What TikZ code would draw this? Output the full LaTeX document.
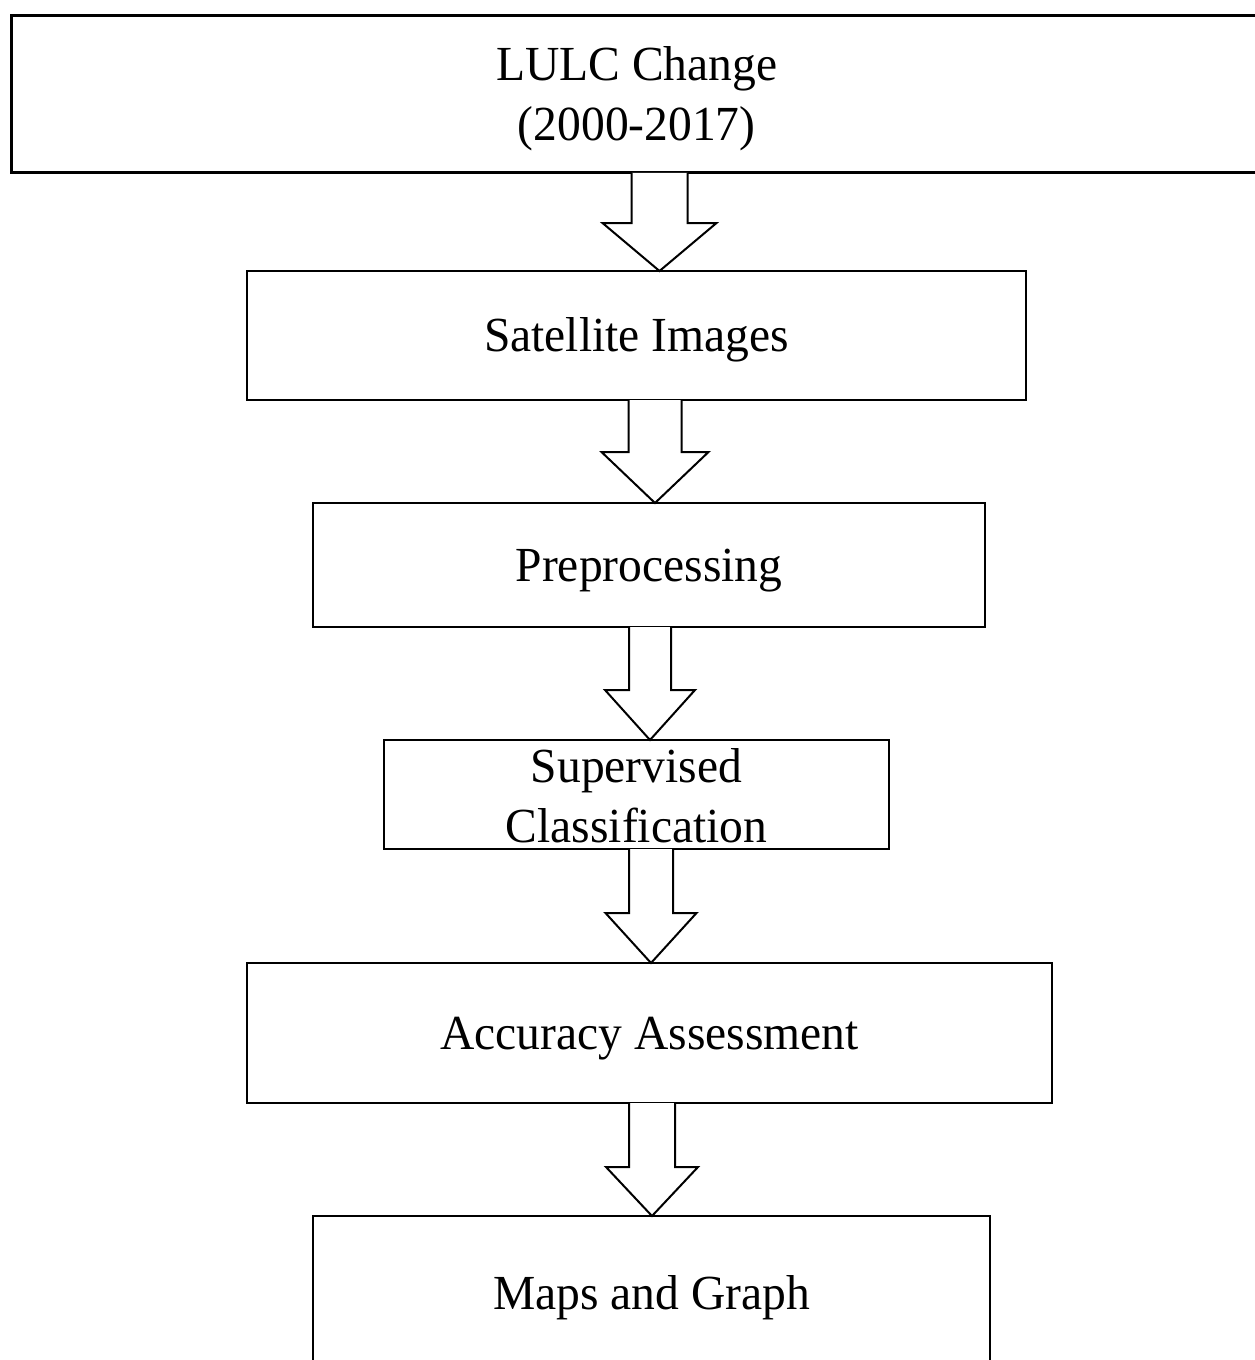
\documentclass[tikz,border=0pt]{standalone}
\usepackage{fontspec}
\setmainfont{Liberation Serif}[FakeStretch=0.97]
\usetikzlibrary{calc}
\tikzset{
  box/.style={draw=black, line width=1pt, fill=white, inner sep=0pt, outer sep=0pt,
    font=\fontsize{24.5}{30}\selectfont, text height=16.2pt, text depth=0pt},
  twoline/.style={text height=16.2pt, text depth=30pt},
  barrow/.style={draw=black, line width=1pt, line join=miter, fill=white}
}
% #1 from node, #2 to node, #3 centre x (px), #4 half shaft, #5 half head, #6 head length
\newcommand\blockarr[6]{%
  \draw[barrow] let \p1=(#1.south), \p2=(#2.north) in
    ({(#3-#4)*0.5pt},\y1) -- ({(#3-#4)*0.5pt},{\y2+#6*0.5pt}) --
    ({(#3-#5)*0.5pt},{\y2+#6*0.5pt}) -- ({#3*0.5pt},\y2) --
    ({(#3+#5)*0.5pt},{\y2+#6*0.5pt}) -- ({(#3+#4)*0.5pt},{\y2+#6*0.5pt}) --
    ({(#3+#4)*0.5pt},\y1);}
\begin{document}
\begin{tikzpicture}[x=0.5pt,y=-0.5pt]
\useasboundingbox (0,0) rectangle (1254,1360);
\node[box, line width=1.5pt, twoline, minimum width=625.25pt, minimum height=78.75pt] (lulc) at (636.75,94)
  {\begin{tabular}[t]{@{}c@{}}LULC Change\\(2000-2017)\end{tabular}};
\node[box, minimum width=389.5pt, minimum height=64.5pt] (sat) at (636.5,335.5) {Satellite Images};
\node[box, minimum width=336pt, minimum height=62pt] (pre) at (649,565) {Preprocessing};
\node[box, twoline, text depth=28pt, minimum width=252.5pt, minimum height=54.5pt] (sup) at (636.5,794.5)
  {\begin{tabular}[t]{@{}c@{}}Supervised\\Classification\end{tabular}};
\node[box, minimum width=402.5pt, minimum height=70pt] (acc) at (649.5,1033) {Accuracy Assessment};
\node[box, minimum width=338.5pt, minimum height=77pt] (map) at (651.5,1293) {Maps and Graph};
\blockarr{lulc}{sat}{659.5}{28}{57}{48}
\blockarr{sat}{pre}{655}{26.5}{53.5}{51}
\blockarr{pre}{sup}{650}{21}{45}{50}
\blockarr{sup}{acc}{651}{22}{45.5}{50}
\blockarr{acc}{map}{652}{23}{46}{49}
\end{tikzpicture}
\end{document}
